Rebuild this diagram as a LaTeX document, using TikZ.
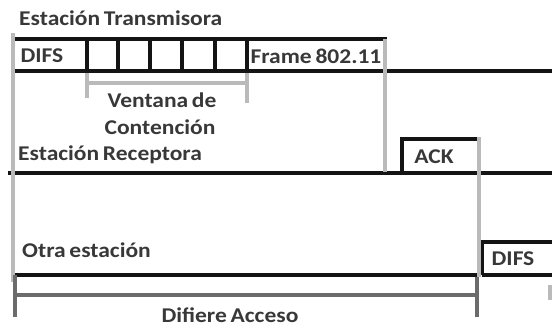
\documentclass[tikz,border=0pt]{standalone}
\usepackage{fontspec}
\setmainfont{Carlito}[FakeStretch=1.12,WordSpace=0.7]
\begin{document}
\begin{tikzpicture}[x=1pt,y=-1pt,
  txt/.style={inner sep=0pt,text=black!78,font=\bfseries\fontsize{21}{23}\selectfont},
  blk/.style={draw=black!92,line width=4.6pt},
  lgr/.style={draw=black!27,line width=3.6pt},
  dgr/.style={draw=black!58,line width=3.8pt}]
\useasboundingbox (0,0) rectangle (552,327);
% --- coordinates
\coordinate (txTL) at (15,39);  \coordinate (txTR) at (387,39);
\coordinate (txBL) at (15,71);  \coordinate (txBR) at (552,71);
\coordinate (rxL) at (8,173);   \coordinate (rxR) at (552,173);
\coordinate (ackL) at (402,173); \coordinate (ackT) at (402,139); \coordinate (ackTR) at (477,139);
\coordinate (otL) at (15,275);  \coordinate (otR) at (477,275);
\coordinate (dfBL) at (482,275); \coordinate (dfTL) at (482,242);
\coordinate (dfTR) at (552,242); \coordinate (dfBR) at (552,275);
% --- black timelines
\draw[blk] (txTL) -- (txTR);
\draw[blk] (txBL) -- (txBR);
\foreach \x in {87,118,150,182,215,247} \draw[blk] (\x,39) -- (\x,71);
\draw[blk] (rxL) -- (rxR);
\draw[blk] (ackL) -- (ackT) -- (ackTR);
\draw[blk] (otL) -- (otR);
\draw[blk] (dfBL) -- (dfTL) -- (dfTR);
\draw[blk] (dfBL) -- (dfBR);
% --- light gray markers
\draw[lgr] (13,33) -- (13,282);
\draw[lgr] (385,39) -- (385,172);
\draw[lgr] (479,137) -- (479,277);
\draw[lgr] (87,73) -- (87,98);
\draw[lgr] (87,83) -- (247,83);
\draw[lgr] (247,73) -- (247,103);
\draw[lgr] (550,285) -- (550,300);
% --- dark gray bracket
\draw[dgr] (15,275) -- (15,317);
\draw[dgr] (15,295) -- (477,295);
\draw[dgr] (477,277) -- (477,317);
% --- texts
\node[txt,anchor=west] (tx) at (19,18) {Estación Transmisora};
\node[txt] (difs1) at (42,56) {DIFS};
\node[txt] (frame) at (316,56) {Frame 802.11};
\node[txt] (cw1) at (162,100) {Ventana de};
\node[txt] (cw2) at (160,127) {Contención};
\node[txt,anchor=west] (rx) at (18,155) {Estación Receptora};
\node[txt] (ack) at (434,157) {ACK};
\node[txt,anchor=west] (ot) at (22,250) {Otra estación};
\node[txt] (difs2) at (513,259) {DIFS};
\node[txt] (def) at (230,315) {Difiere Acceso};
\end{tikzpicture}
\end{document}
